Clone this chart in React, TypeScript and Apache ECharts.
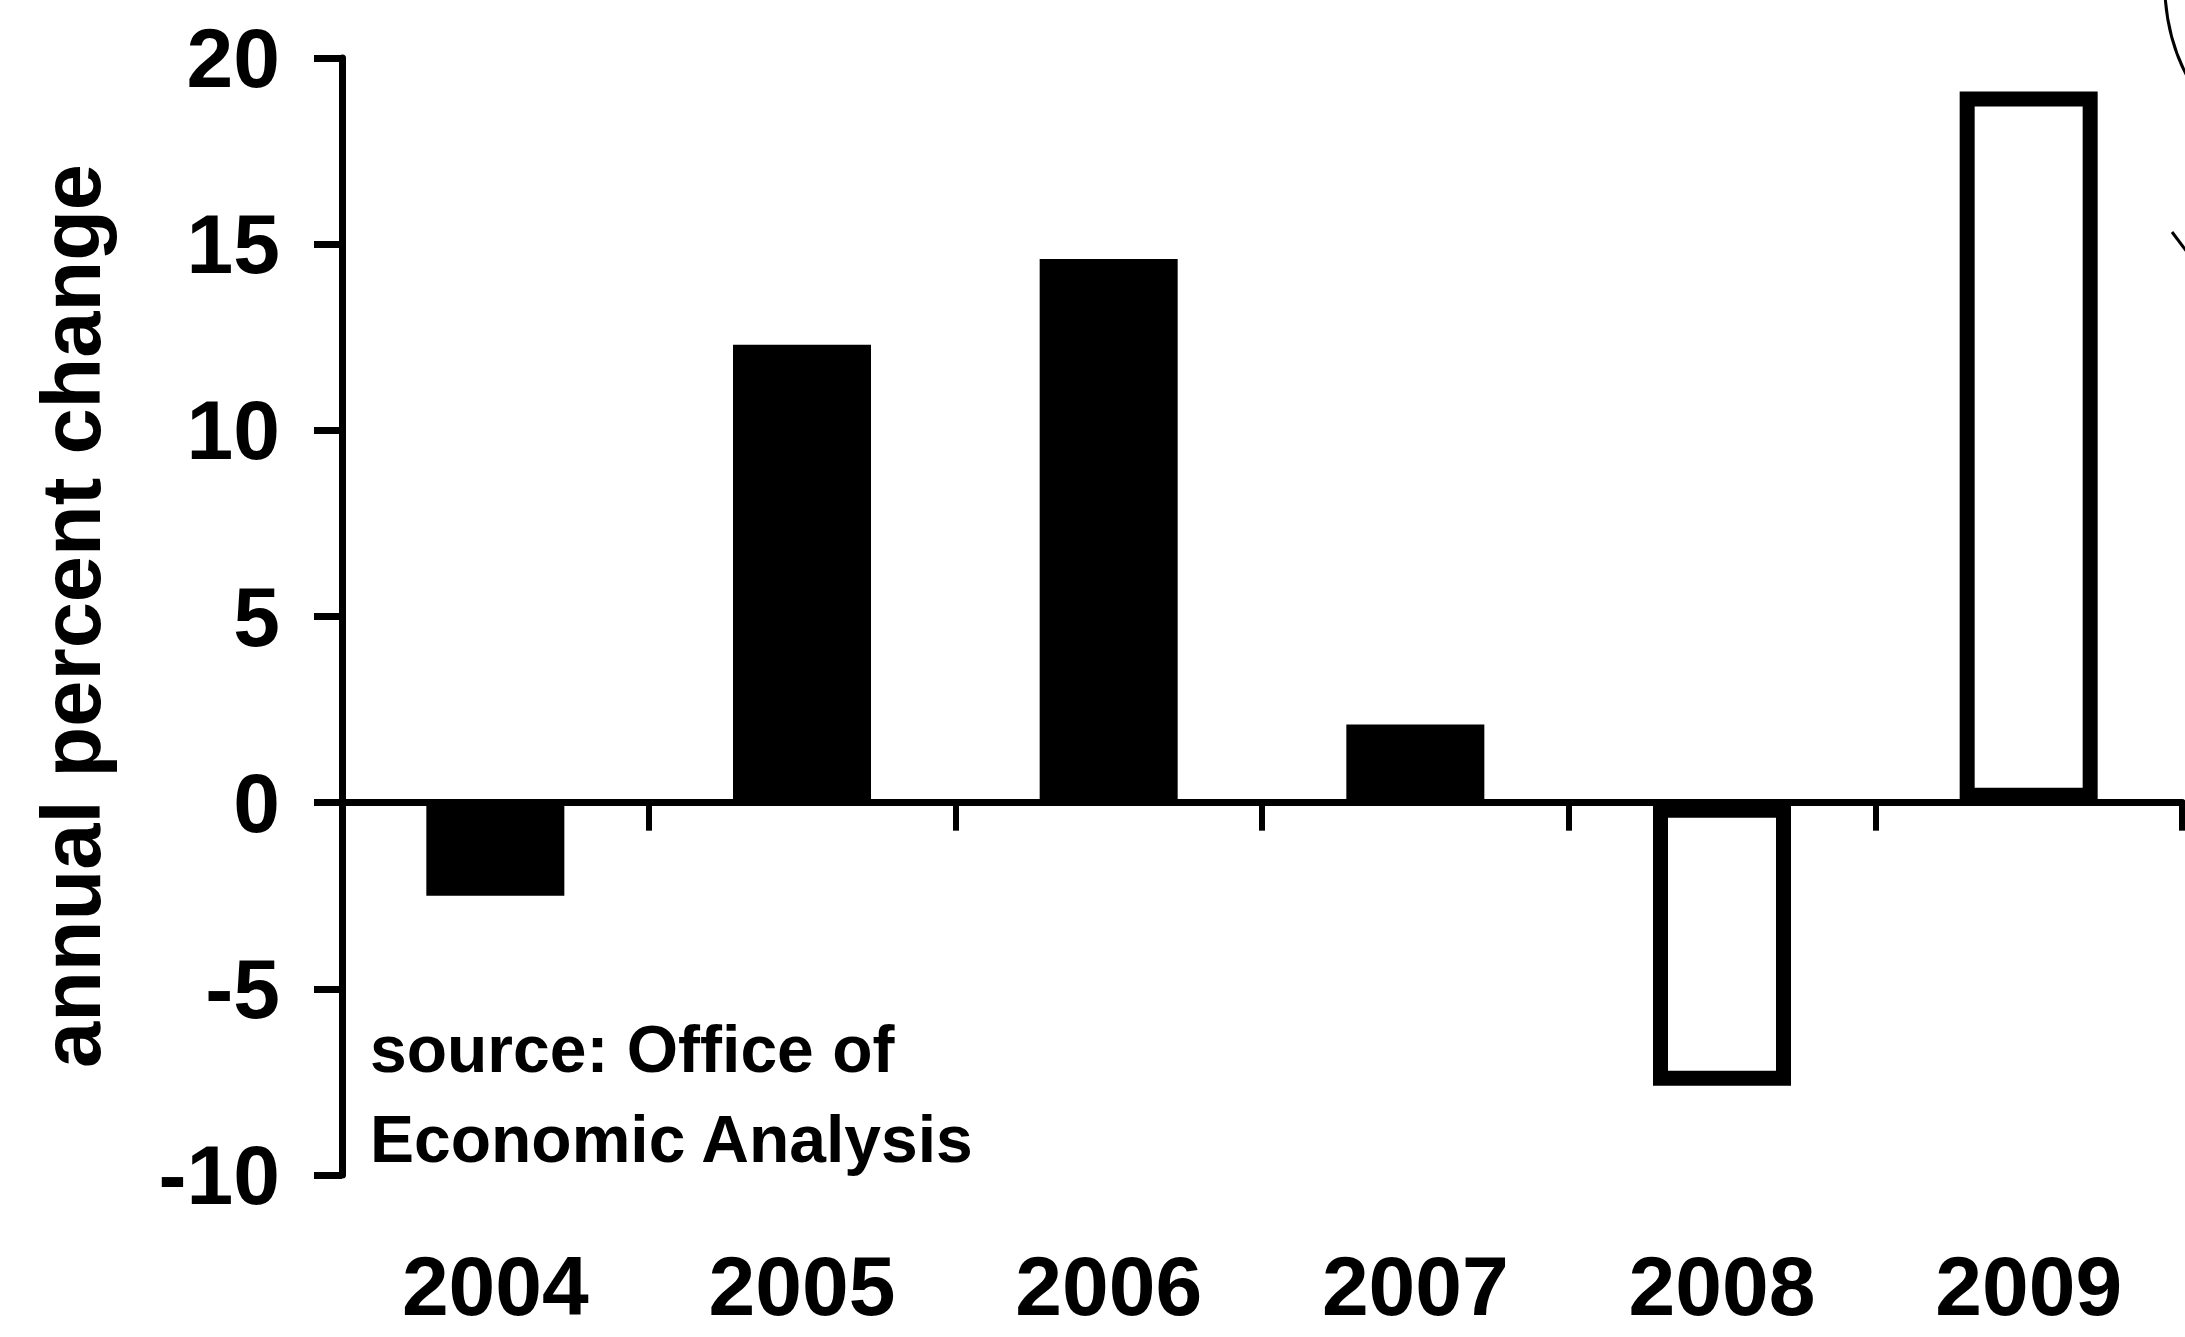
import { useEffect, useRef } from 'react';
import * as echarts from 'echarts';

const years = ['2004', '2005', '2006', '2007', '2008', '2009'];
const actualChange: (number | null)[] = [-2.5, 12.3, 14.6, 2.1, null, null];
const projectedChange: (number | null)[] = [null, null, null, null, -7.6, 19.1];
const yMin = -10;
const yMax = 20;
const yStep = 5;
const titleText = 'annual percent change';
const sourceLines = ['source: Office of', 'Economic Analysis'];
const FONT = "'Liberation Sans', Arial, Helvetica, sans-serif";

export default function App() {
  const ref = useRef<HTMLDivElement>(null);
  useEffect(() => {
    document.body.style.margin = '0';
    const chart = echarts.init(ref.current!, null, { renderer: 'svg' });
    const barCommon = {
      type: 'bar',
      barWidth: 138,
      barGap: '-100%',
      z: 3,
    };
    chart.setOption({
      animation: false,
      backgroundColor: '#ffffff',
      grid: {
        left: 342,
        right: 3,
        top: 58,
        bottom: 162,
        containLabel: false,
        outerBoundsMode: 'none',
      },
      xAxis: {
        type: 'category',
        data: years,
        axisLine: { show: true, onZero: true, lineStyle: { color: '#000', width: 7 } },
        axisTick: { show: true, length: 28, lineStyle: { color: '#000', width: 6 } },
        axisLabel: {
          margin: 76,
          lineHeight: 70,
          interval: 0,
          color: '#000',
          fontSize: 84,
          fontWeight: 'bold',
          fontFamily: FONT,
        },
        splitLine: { show: false },
      },
      yAxis: {
        type: 'value',
        min: yMin,
        max: yMax,
        interval: yStep,
        axisLine: { show: true, lineStyle: { color: '#000', width: 7 } },
        axisTick: { show: true, length: 28, lineStyle: { color: '#000', width: 7 } },
        axisLabel: {
          margin: 62,
          color: '#000',
          fontSize: 84,
          fontWeight: 'bold',
          fontFamily: FONT,
        },
        splitLine: { show: false },
      },
      series: [
        {
          ...barCommon,
          name: 'actual',
          data: actualChange,
          itemStyle: { color: '#000', borderColor: '#000', borderWidth: 15 },
        },
        {
          ...barCommon,
          name: 'projected',
          data: projectedChange,
          itemStyle: { color: '#fff', borderColor: '#000', borderWidth: 15 },
        },
      ],
      graphic: [
        {
          type: 'text',
          x: 71,
          y: 616,
          rotation: Math.PI / 2,
          style: {
            text: titleText,
            fill: '#000',
            fontSize: 83,
            fontWeight: 'bold',
            fontFamily: FONT,
            align: 'center',
            verticalAlign: 'middle',
          },
        },
        {
          type: 'text',
          x: 370,
          y: 1049,
          style: {
            text: sourceLines[0],
            fill: '#000',
            fontSize: 66,
            fontWeight: 'bold',
            fontFamily: FONT,
            align: 'left',
            verticalAlign: 'middle',
          },
        },
        {
          type: 'text',
          x: 370,
          y: 1139,
          style: {
            text: sourceLines[1],
            fill: '#000',
            fontSize: 66,
            fontWeight: 'bold',
            fontFamily: FONT,
            align: 'left',
            verticalAlign: 'middle',
          },
        },
        {
          type: 'bezierCurve',
          shape: { x1: 2165, y1: -5, cpx1: 2168, cpy1: 45, x2: 2192, y2: 85 },
          style: { stroke: '#000', lineWidth: 3, fill: 'none' },
        },
        {
          type: 'line',
          shape: { x1: 2172, y1: 232, x2: 2187, y2: 252 },
          style: { stroke: '#000', lineWidth: 3 },
        },
      ],
    });
    return () => chart.dispose();
  }, []);
  return <div ref={ref} style={{ width: 2185, height: 1337 }} />;
}
